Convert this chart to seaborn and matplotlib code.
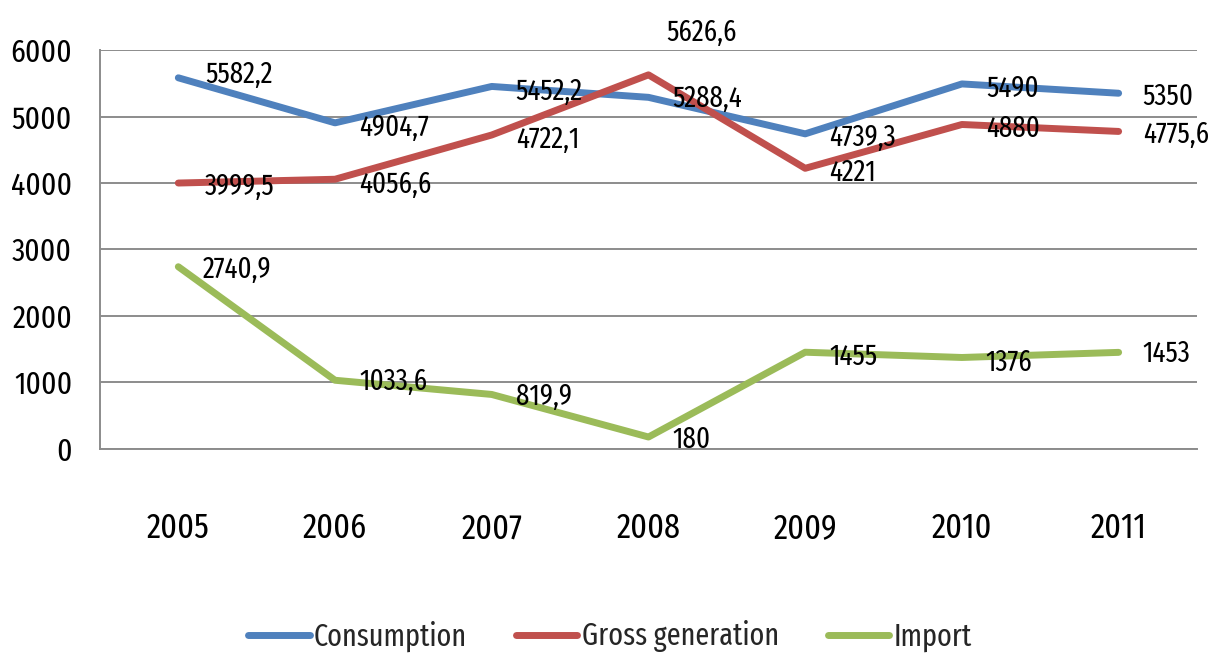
import matplotlib
matplotlib.use("Agg")
import matplotlib.pyplot as plt
from matplotlib.ticker import FixedLocator, MultipleLocator
import seaborn as sns
import pandas as pd

years = ["2005", "2006", "2007", "2008", "2009", "2010", "2011"]
consumption = [5582.2, 4904.7, 5452.2, 5288.4, 4739.3, 5490, 5350]
gross_generation = [3999.5, 4056.6, 4722.1, 5626.6, 4221, 4880, 4775.6]
imports = [2740.9, 1033.6, 819.9, 180, 1455, 1376, 1453]
series_names = ["Consumption", "Gross generation", "Import"]

# extra nudges (pixels) for data labels that sit right of their point
label_nudges = {
    "Consumption": [(3, 5), (0, -3), (0, -4), (0, 0), (0, -2), (0, -3), (0, -2)],
    "Gross generation": [(3, -2), (0, -4), (0, -3), (-6, 44), (0, -3), (0, -3), (0, -2)],
    "Import": [(0, -1), (0, 0), (0, -1), (0, -1), (0, -3), (0, -3), (0, 0)],
}

sns.set_theme(style="white")
plt.rcParams["font.family"] = ["Fira Sans Extra Condensed", "DejaVu Sans"]

df = pd.DataFrame({
    "value": consumption + gross_generation + imports,
    "series": [s for s in series_names for _ in years],
    "pos": list(range(len(years))) * 3,
})

palette = {"Consumption": "#4F81BD", "Gross generation": "#C0504D", "Import": "#9BBB59"}
grid_color = "#8c8c8c"

fig = plt.figure(figsize=(12.13, 6.59), dpi=100)
ax = fig.add_axes([0.0824, 0.3187, 0.9044, 0.6054])

sns.lineplot(data=df, x="pos", y="value", hue="series", hue_order=series_names,
             palette=palette, linewidth=5, ax=ax, legend=True, solid_capstyle="round",
             solid_joinstyle="round")

ax.set_xlim(-0.5, len(years) - 0.5)
ax.set_ylim(0, 6000)
ax.yaxis.set_major_locator(MultipleLocator(1000))
ax.grid(axis="y", color=grid_color, linewidth=1.4)
ax.set_axisbelow(True)

ax.set_xticks(range(len(years)))
ax.set_xticklabels(years, fontsize=25, color="black")
ax.xaxis.set_minor_locator(FixedLocator([i - 0.5 for i in range(len(years) + 1)]))
ax.tick_params(axis="x", which="major", length=0, pad=45)
ax.tick_params(axis="x", which="minor", length=16, width=1.4, color=grid_color, direction="out")
ax.tick_params(axis="y", length=12, width=1.4, color=grid_color, direction="out",
               labelsize=23, labelcolor="black", pad=8)
ax.set_xlabel("")
ax.set_ylabel("")

for side in ("top", "right"):
    ax.spines[side].set_visible(False)
for side in ("left", "bottom"):
    ax.spines[side].set_color(grid_color)
    ax.spines[side].set_linewidth(1.4)

values = {"Consumption": consumption, "Gross generation": gross_generation, "Import": imports}
for name in series_names:
    for i, v in enumerate(values[name]):
        txt = f"{v:g}".replace(".", ",")
        nx, ny = label_nudges[name][i]
        ax.annotate(txt, (i, v), xytext=(24 + nx, -10 + ny), textcoords="offset pixels",
                    ha="left", va="baseline", fontsize=21, color="black",
                    annotation_clip=False)

handles, labels = ax.get_legend_handles_labels()
ax.legend(handles, labels, loc="center", bbox_to_anchor=(0.465, -0.47), ncol=3,
          frameon=False, fontsize=22, handlelength=2.0, handletextpad=0.15,
          columnspacing=1.6)

fig.savefig("out.png", dpi=100)
